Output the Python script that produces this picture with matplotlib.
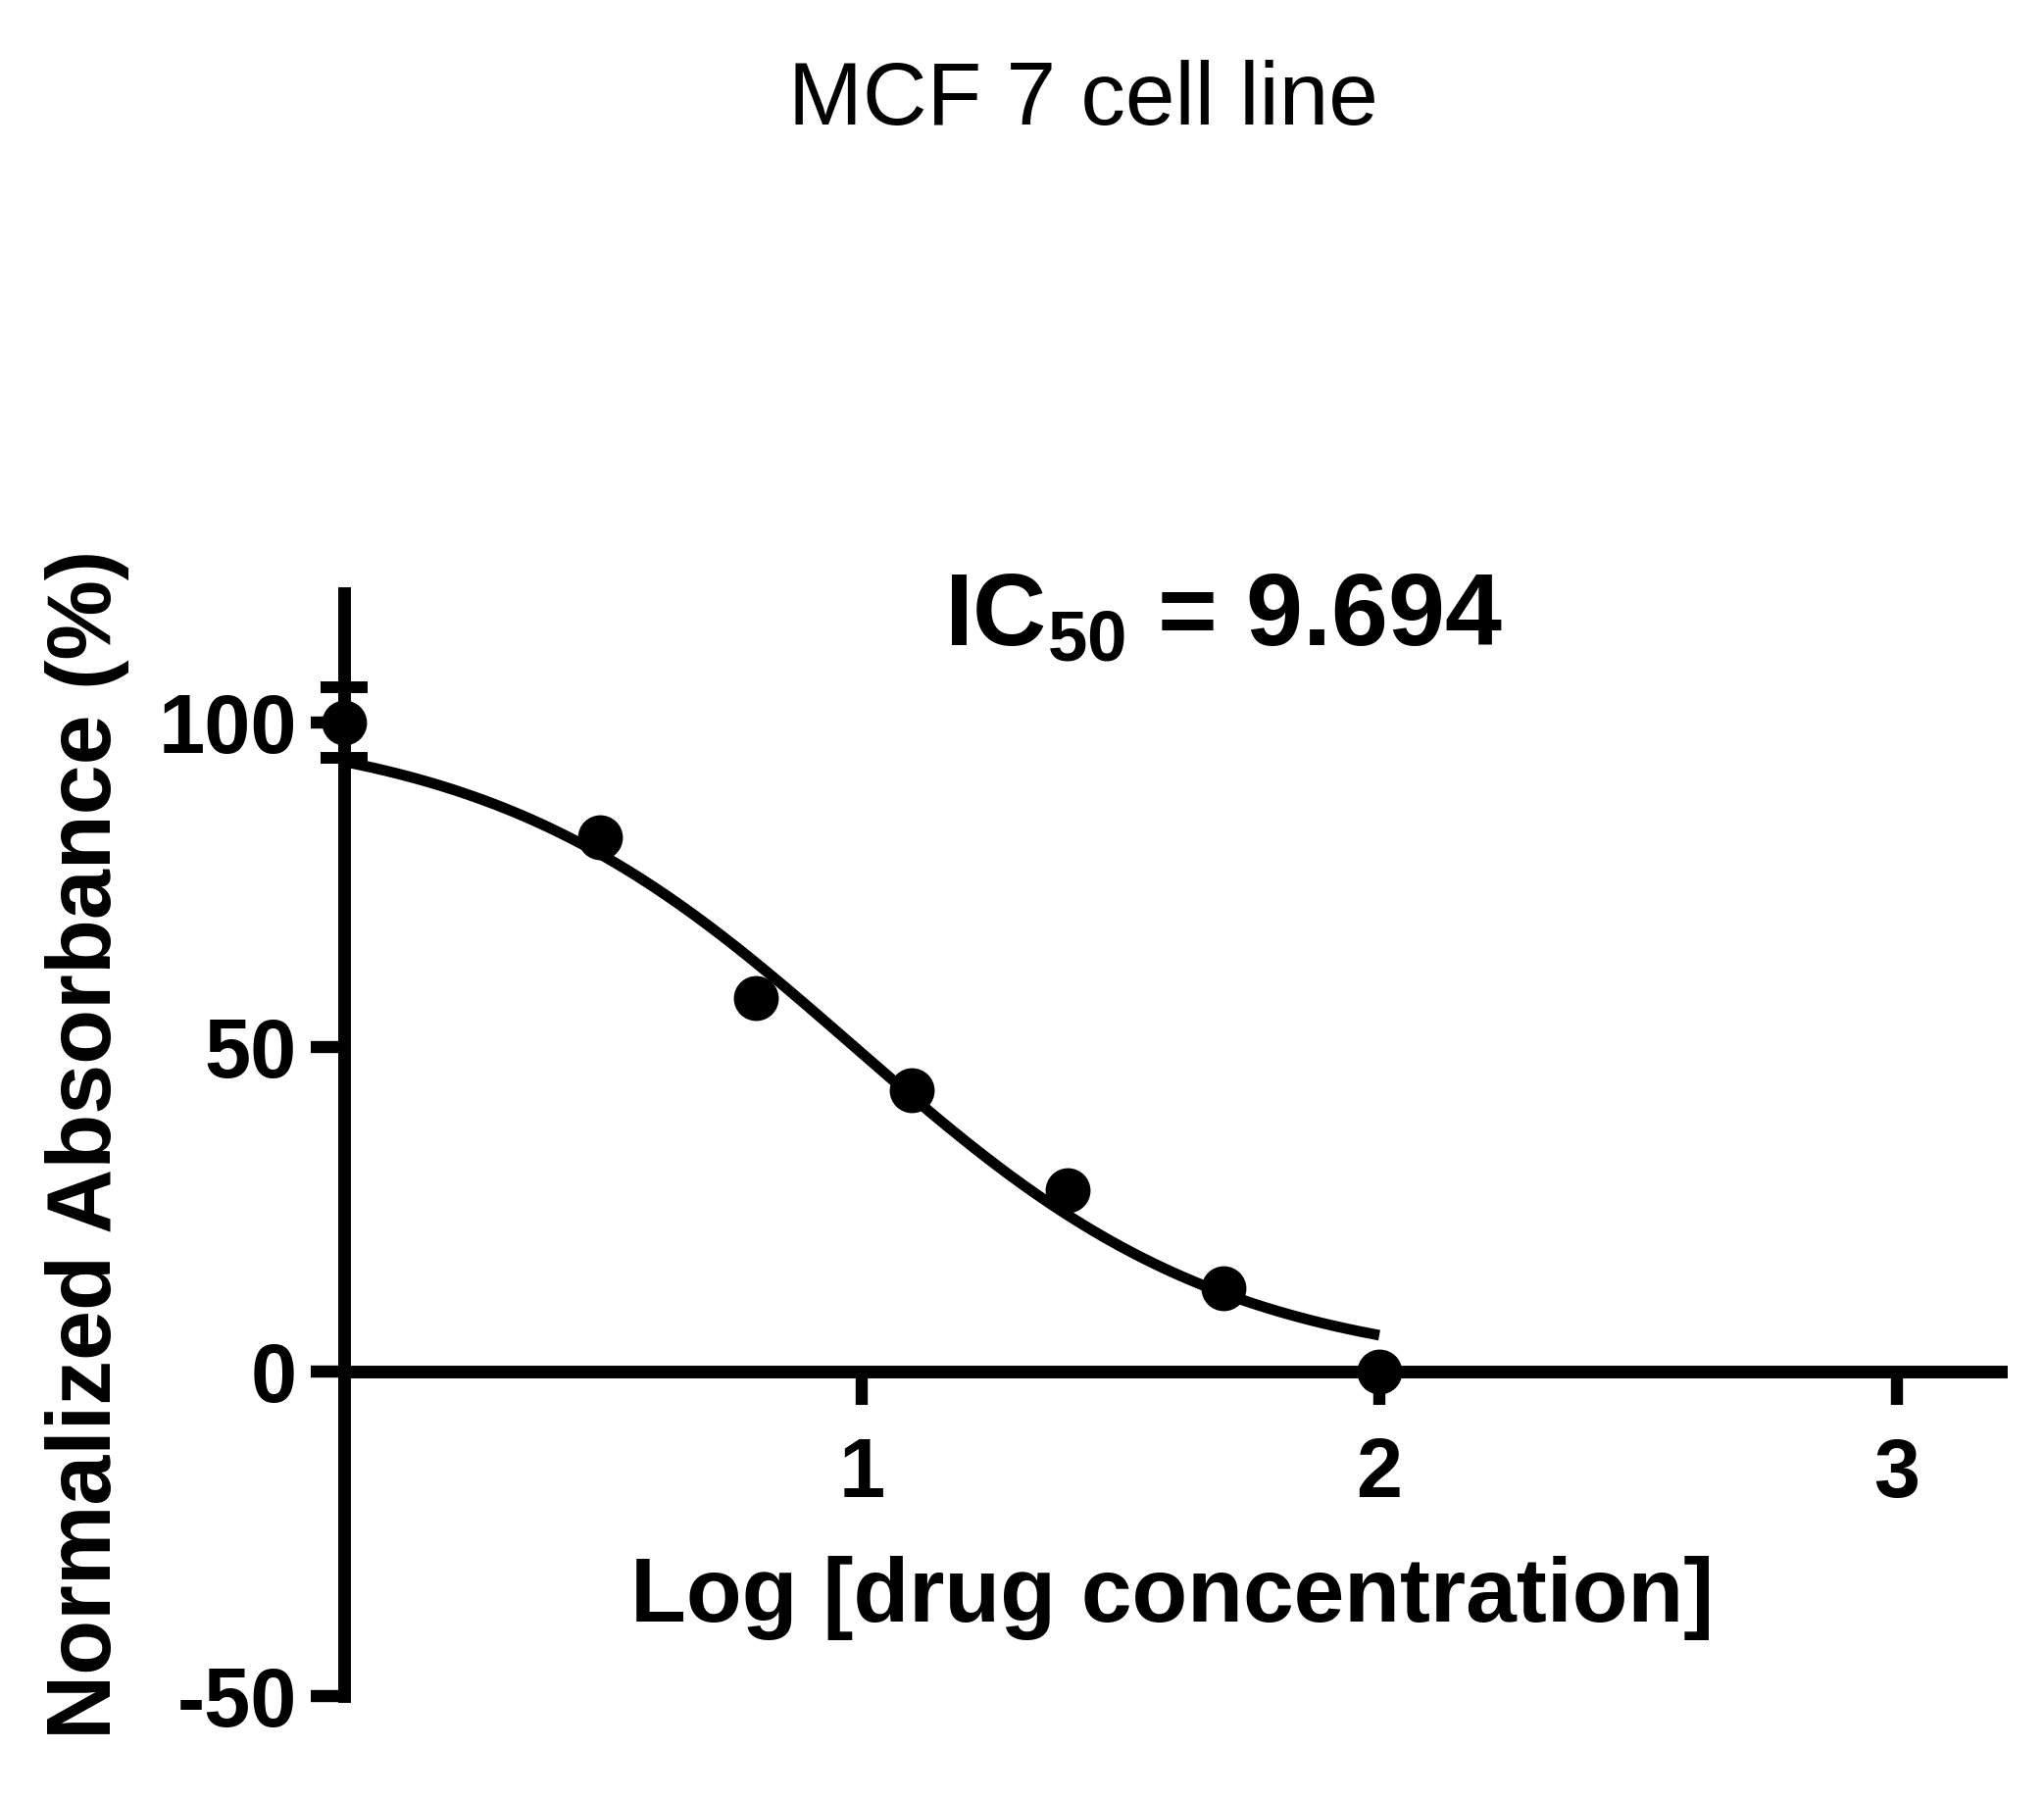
import numpy as np
import matplotlib
matplotlib.use("Agg")
import matplotlib.pyplot as plt

plt.rcParams['font.family'] = ['Liberation Sans', 'DejaVu Sans']
plt.rcParams['mathtext.default'] = 'regular'
plt.rcParams['axes.unicode_minus'] = False

# drug concentrations (two-fold dilutions) and normalized absorbance
conc = [1, 3.125, 6.25, 12.5, 25, 50, 100]
absorbance = [100, 82.3, 57.5, 43.3, 28.0, 12.9, 0.0]
err_first = 5.5  # SD of the control point

# fitted dose-response curve (4PL)
top, bottom = 100.0, 0.0
ic50 = 9.694
hill = 1.21

x_ticks = [1, 2, 3]
y_ticks = [-50, 0, 50, 100]

log_conc = np.log10(conc)
x_fit = np.linspace(0, 2, 300)
y_fit = bottom + (top - bottom) / (1 + 10 ** ((x_fit - np.log10(ic50)) * hill))

fig = plt.figure(figsize=(20.85, 18.35), dpi=100)
ax = fig.add_axes([0.1683, 0.0572, 0.8104, 0.6133])

ax.plot(x_fit, y_fit, color='black', lw=7.8, solid_capstyle='butt', zorder=3)
ax.errorbar(log_conc[:1], absorbance[:1], yerr=[err_first], fmt='none',
            ecolor='black', elinewidth=8.6, capsize=17, capthick=8.6,
            clip_on=False, zorder=4)
ax.plot(log_conc, absorbance, 'o', color='black', markersize=32,
        clip_on=False, zorder=5)

ax.set_xlim(0, 3.2)
ax.set_ylim(-50, 120)

for s in ['top', 'right']:
    ax.spines[s].set_visible(False)
ax.spines['bottom'].set_position(('data', 0))
ax.spines['bottom'].set_bounds(0, 3.2)
ax.spines['left'].set_bounds(-50, 120)
for s in ['bottom', 'left']:
    ax.spines[s].set_linewidth(9.3)
    ax.spines[s].set_capstyle('projecting')
    ax.spines[s].set_zorder(2)

ax.set_xticks(x_ticks)
ax.set_yticks(y_ticks)
ax.tick_params(axis='both', direction='out', length=24.5, width=8.9,
               labelsize=61)
ax.tick_params(axis='x', pad=23)
ax.tick_params(axis='y', pad=10)
for lab in ax.get_xticklabels() + ax.get_yticklabels():
    lab.set_fontweight('bold')

ax.set_xlabel('Log [drug concentration]', fontsize=67, fontweight='bold')
ax.xaxis.label.set_va('baseline')
ax.xaxis.set_label_coords(0.5, 0.0675)

ax.set_ylabel('Normalized Absorbance (%)', fontsize=66, fontweight='bold',
              rotation=90, rotation_mode='anchor')
ax.yaxis.label.set_va('baseline')
ax.yaxis.label.set_ha('center')
ax.yaxis.set_label_coords(-0.1408, 0.5)

ax.set_title('MCF 7 cell line', fontsize=65.5, x=0.446, y=1.4244, pad=0,
             va='baseline')

ax.text(1.16, 112, 'IC$_{50}$ = 9.694', fontsize=75, fontweight='bold',
        ha='left', va='baseline')

fig.savefig('out.png', dpi=100, facecolor='white')
